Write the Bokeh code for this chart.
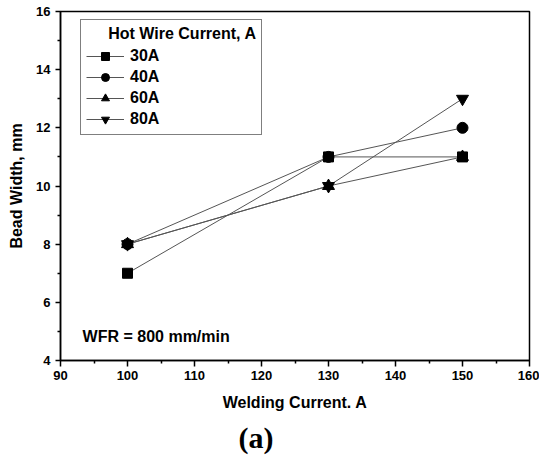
from bokeh.plotting import figure
from bokeh.models import Range1d, Label, Legend, LegendItem, FixedTicker, Title
from bokeh.embed import file_html
from bokeh.resources import INLINE

# ---- data ----
welding_current = [100, 130, 150]
width_30A = [7, 11, 11]
width_40A = [8, 11, 12]
width_60A = [8, 10, 11]
width_80A = [8, 10, 13]
series_labels = ["30A", "40A", "60A", "80A"]
series_values = [width_30A, width_40A, width_60A, width_80A]
series_markers = ["square", "circle", "triangle", "inverted_triangle"]
marker_sizes = [10, 11, 12, 12]
x_ticks = [90, 100, 110, 120, 130, 140, 150, 160]
y_ticks = [4, 6, 8, 10, 12, 14, 16]
x_minor = [95, 105, 115, 125, 135, 145, 155]
y_minor = [5, 7, 9, 11, 13, 15]

FONT = "Liberation Sans"

p = figure(width=539, height=459, output_backend="svg", toolbar_location=None,
           x_range=Range1d(90, 160), y_range=Range1d(4, 16),
           min_border_left=60, min_border_right=10, min_border_top=11,
           min_border_bottom=99)
p.background_fill_color = "white"
p.border_fill_color = "white"
p.outline_line_color = "black"
p.outline_line_width = 1.5
p.xgrid.visible = False
p.ygrid.visible = False

p.xaxis.ticker = FixedTicker(ticks=x_ticks, minor_ticks=x_minor)
p.yaxis.ticker = FixedTicker(ticks=y_ticks, minor_ticks=y_minor)
for ax in (p.xaxis[0], p.yaxis[0]):
    ax.axis_line_color = "black"
    ax.axis_line_width = 1.5
    ax.major_tick_line_color = "black"
    ax.minor_tick_line_color = "black"
    ax.major_tick_line_width = 1.5
    ax.minor_tick_line_width = 1.5
    ax.major_tick_in = 0
    ax.minor_tick_in = 0
    ax.major_label_text_font = FONT
    ax.major_label_text_font_style = "bold"
    ax.major_label_text_font_size = "13px"
    ax.major_label_text_color = "black"
    ax.axis_label_text_font = FONT
    ax.axis_label_text_font_style = "bold"
    ax.axis_label_text_font_size = "16px"
    ax.axis_label_text_color = "black"

p.xaxis.major_tick_out = 6
p.xaxis.minor_tick_out = 3
p.xaxis.major_label_standoff = 4
p.xaxis.axis_label_standoff = 11
p.xaxis.axis_label = "Welding Current. A"

p.yaxis.major_tick_out = 5
p.yaxis.minor_tick_out = 3
p.yaxis.major_label_standoff = 5
p.yaxis.axis_label_standoff = 8
p.yaxis.axis_label = "Bead Width, mm"

line_renderers = []
for vals in series_values:
    r = p.line(welding_current, vals, line_color="#555555", line_width=1)
    line_renderers.append(r)

items = []
for lbl, vals, mk, sz, lr in zip(series_labels, series_values, series_markers,
                                 marker_sizes, line_renderers):
    mr = p.scatter(welding_current, vals, marker=mk, size=sz,
                   fill_color="black", line_color="black")
    items.append(LegendItem(label=lbl, renderers=[lr, mr]))

legend = Legend(items=items, location=(20, 225),
                title="\u00a0\u00a0\u00a0\u00a0\u00a0Hot Wire Current, A",
                title_text_font=FONT, title_text_font_style="bold",
                title_text_font_size="16px", title_text_color="black",
                title_standoff=3,
                label_text_font=FONT, label_text_font_style="bold",
                label_text_font_size="16px", label_text_color="black",
                glyph_width=38, glyph_height=20, label_height=20,
                label_standoff=6, spacing=1, padding=5, margin=0,
                border_line_color="black", border_line_width=1,
                background_fill_color="white", background_fill_alpha=1)
p.add_layout(legend, "center")

p.add_layout(Label(x=93.3, y=4.82, text="WFR = 800 mm/min", text_font=FONT,
                   text_font_style="bold", text_font_size="16px",
                   text_align="left", text_baseline="middle", text_color="black"))

p.add_layout(Title(text="(a)", align="left", offset=178,
                   text_font="Liberation Serif", text_font_style="bold",
                   text_font_size="30px", text_color="black"), "below")

open("out.html", "w").write(file_html(p, INLINE))
